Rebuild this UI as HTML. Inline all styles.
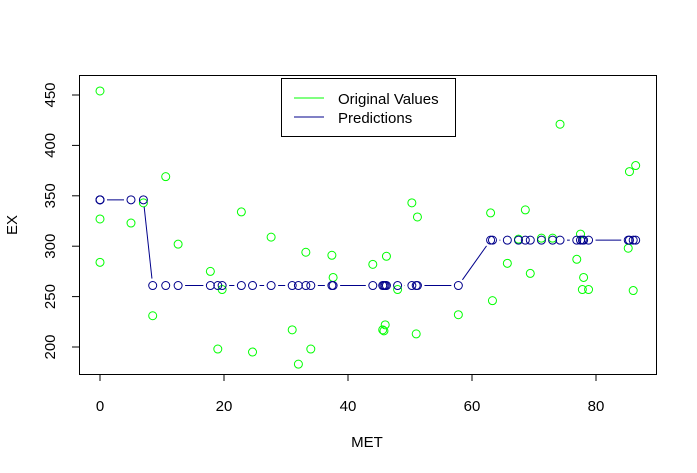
<!DOCTYPE html>
<html><head><meta charset="utf-8"><style>
body{margin:0;background:#fff}
svg{display:block;font-family:"Liberation Sans",sans-serif}
</style></head><body>
<svg id="chart" width="697" height="473" xmlns="http://www.w3.org/2000/svg">
<rect width="697" height="473" fill="#fff"/>
<g id="axes"></g>
<g id="marks"></g>
<g>
<rect x="281.5" y="78.5" width="174" height="58" fill="#fff" stroke="#000"/>
<line x1="294" y1="98" x2="324" y2="98" stroke="#00ff00"/>
<text x="338" y="104" font-size="15">Original Values</text>
<line x1="294" y1="117" x2="324" y2="117" stroke="#00008b"/>
<text x="338" y="123" font-size="15">Predictions</text>
</g>
<text x="367" y="447" font-size="15" text-anchor="middle">MET</text>
<text x="17" y="225" font-size="15" text-anchor="middle" transform="rotate(-90 17 225)">EX</text>
</svg>
<script>
const metValues=[0,0,0,5,7,8.5,10.6,12.6,17.8,19,19.7,22.8,24.6,27.6,31,32,33.2,34,37.4,37.6,44,45.6,45.8,46,46.2,48,50.3,51,51.2,57.8,63,63.3,65.7,67.5,68.6,69.4,71.2,73,74.2,76.9,77.5,77.8,78,78.8,85.2,85.4,86,86.4];
const exValues=[454,327,284,323,343,231,369,302,275,198,257,334,195,309,217,183,294,198,291,269,282,217,216,222,290,257,343,213,329,232,333,246,283,307,336,273,308,308,421,287,312,257,269,257,298,374,256,380];
const predValues=[346,346,346,346,346,261,261,261,261,261,261,261,261,261,261,261,261,261,261,261,261,261,261,261,261,261,261,261,261,261,306,306,306,306,306,306,306,306,306,306,306,306,306,306,306,306,306,306];
const xTicks=[0,20,40,60,80];
const yTicks=[200,250,300,350,400,450];
const NS="http://www.w3.org/2000/svg";
const xs=v=>100+v*6.2;
const ys=v=>95+(450-v)*1.008;
function mk(tag,attrs,parent){const e=document.createElementNS(NS,tag);for(const k in attrs)e.setAttribute(k,attrs[k]);parent.appendChild(e);return e;}
const axes=document.getElementById('axes'),marks=document.getElementById('marks');
const box=mk('rect',{x:79.5,y:75.5,width:577,height:299,fill:'none',stroke:'#000'},axes);


const xl=mk('line',{x1:xs(0),x2:xs(80),y1:374.5,y2:374.5,stroke:'#000'},axes);


xTicks.forEach(t=>{
 const l=mk('line',{x1:xs(t),x2:xs(t),y1:374,y2:381,stroke:'#000'},axes);
 
 
 const tx=mk('text',{x:xs(t),y:411,'font-size':15,'text-anchor':'middle'},axes);tx.textContent=t;
 
 
});
yTicks.forEach(t=>{
 const l=mk('line',{x1:72,x2:79,y1:ys(t),y2:ys(t),stroke:'#000'},axes);
 
 
 const tx=mk('text',{x:55,y:ys(t),'font-size':15,'text-anchor':'middle',transform:`rotate(-90 55 ${ys(t)})`},axes);tx.textContent=t;
 
 
});
// original points
metValues.forEach((m,i)=>{
 const c=mk('circle',{cx:xs(m),cy:ys(exValues[i]),r:4,fill:'none',stroke:'#00ff00'},marks);
 
 
});
// predictions type b
const gap=7;
for(let i=0;i<metValues.length-1;i++){
 const x1=xs(metValues[i]),y1=ys(predValues[i]),x2=xs(metValues[i+1]),y2=ys(predValues[i+1]);
 const d=Math.hypot(x2-x1,y2-y1);
 if(d>2*gap){const ux=(x2-x1)/d,uy=(y2-y1)/d;
  const s=mk('line',{x1:x1+ux*gap,y1:y1+uy*gap,x2:x2-ux*gap,y2:y2-uy*gap,stroke:'#00008b'},marks);
  
  
 }
}
metValues.forEach((m,i)=>{
 const c=mk('circle',{cx:xs(m),cy:ys(predValues[i]),r:4,fill:'none',stroke:'#00008b'},marks);
 
 
});
</script>
</body></html>
